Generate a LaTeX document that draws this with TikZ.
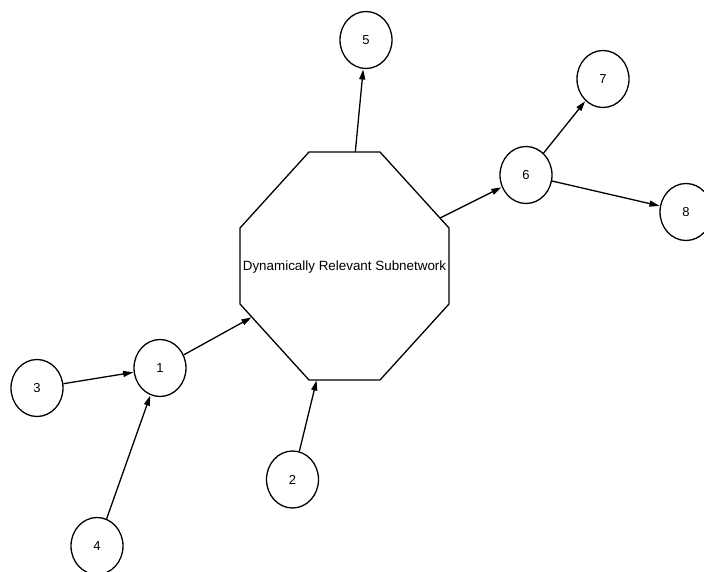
\documentclass[tikz,border=0pt]{standalone}
\usepackage{fontspec}
\setmainfont{Liberation Sans}
\usetikzlibrary{shapes.geometric,arrows.meta}
\begin{document}
\begin{tikzpicture}[x=1pt,y=-1pt,
  every path/.style={line width=1.3pt},
  vnode/.style={draw,ellipse,minimum width=52pt,minimum height=57pt,inner sep=0pt,
    font=\fontsize{13}{15}\selectfont},
  link/.style={-{Triangle[length=10pt,width=6pt]},shorten >=0.5pt}]
\useasboundingbox (0,0) rectangle (704,572);
\fill[white] (0,0) rectangle (704,572);
% octagon subnetwork
\draw[line join=miter] (309,152) -- (380,152) -- (449,228) -- (449,304) -- (380,380)
  -- (309,380) -- (240,304) -- (240,228) -- cycle;
\node[font=\fontsize{13.4}{16}\selectfont] (sub) at (344.5,267) {Dynamically Relevant Subnetwork};
\coordinate (b1) at (251.9,317.2);
\coordinate (b2) at (316.7,380);
\coordinate (b5) at (355.3,152);
\coordinate (b6) at (440.0,218.1);
% nodes
\node[vnode] (n1) at (160,368) {1};
\node[vnode] (n2) at (292.5,479.5) {2};
\node[vnode] (n3) at (37,388) {3};
\node[vnode] (n4) at (97,546) {4};
\node[vnode] (n5) at (366,40) {5};
\node[vnode] (n6) at (526,175) {6};
\node[vnode] (n7) at (603,79) {7};
\node[vnode] (n8) at (686,212) {8};
% edges
\draw[link] (n3) -- (n1);
\draw[link] (n4) -- (n1);
\draw[link] (n1) -- (b1);
\draw[link] (n2) -- (b2);
\draw[link] (b5) -- (n5);
\draw[link] (b6) -- (n6);
\draw[link] (n6) -- (n7);
\draw[link] (n6) -- (n8);
\end{tikzpicture}
\end{document}
